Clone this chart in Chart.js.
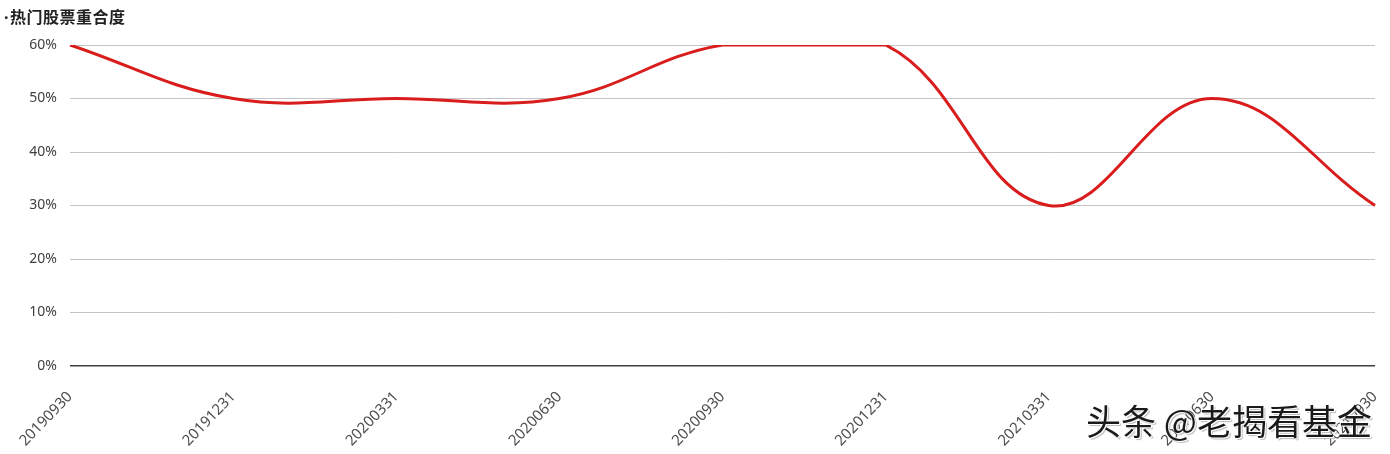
<!DOCTYPE html>
<html>
<head>
<meta charset="utf-8">
<script src="https://cdn.jsdelivr.net/npm/chart.js@4"></script>
<style>
  body { margin:0; background:#fff; }
  #wrap { position:relative; width:1390px; height:454px; }
  #title { position:absolute; left:4px; top:4px; font:bold 16px "Noto Sans CJK SC"; color:#222; letter-spacing:0.5px; }
  #title span { font-family:"Noto Sans"; margin-right:1px; }
  #mark { position:absolute; left:1086px; top:394px; font:35px "Noto Sans CJK SC"; color:#1a1a1a;
          text-shadow:-1px -1px 0 #fff, 1px 1px 0 #fff, 2px 2px 1px #bbb; white-space:nowrap; }
</style>
</head>
<body>
<div id="wrap">
  <canvas id="overlap_chart" width="1390" height="454"></canvas>
  <div id="title"><span>·</span>热门股票重合度</div>
  <div id="mark">头条 @老揭看基金</div>
</div>
<script>
// 季度末日期
let dateLabels = ["20190930","20191231","20200331","20200630","20200930","20201231","20210331","20210630","20210930"];
// 热门股票重合度 (%)
let overlapArr = [60, 50, 50, 50, 60, 60, 30, 50, 30];
let yTicks = [0, 10, 20, 30, 40, 50, 60];

let overlapChart = new Chart(document.getElementById("overlap_chart"), {
    type:"line",
    data:{
        labels:dateLabels,
        datasets:[{
            label:"热门股票重合度",
            data:overlapArr,
            borderColor:"#d91c1c",
            borderWidth:3,
            pointRadius:0,
            tension:0.4,
            fill:false
        }]
    },
    options:{
        responsive:false,
        animation:false,
        layout:{ padding:{ top:45, right:15, left:0, bottom:0 } },
        plugins:{ legend:{ display:false }, tooltip:{ enabled:false } },
        scales:{
            x:{
                offset:false,
                grid:{ display:false },
                border:{ display:false },
                ticks:{
                    maxRotation:46, minRotation:46, autoSkip:false,
                    color:"#4d4d4d",
                    font:{ family:"Noto Sans", size:15 },
                    padding:14
                },
                afterFit:function(s){ s.height = 88; s.paddingLeft = 0; s.paddingRight = 0; }
            },
            y:{
                min:0, max:60,
                afterBuildTicks:function(s){ s.ticks = yTicks.map(function(v){ return {value:v}; }); },
                grid:{
                    color:function(c){ return c.tick && c.tick.value === 0 ? "#404040" : "#c4c4c4"; },
                    lineWidth:function(c){ return c.tick && c.tick.value === 0 ? 1.5 : 1; },
                    drawTicks:false
                },
                border:{ display:false },
                ticks:{
                    color:"#404040",
                    font:{ family:"Noto Sans", size:14 },
                    padding:13,
                    callback:function(v){ return v + "%"; }
                },
                afterFit:function(s){ s.width = 70; }
            }
        }
    }
});
</script>
</body>
</html>
